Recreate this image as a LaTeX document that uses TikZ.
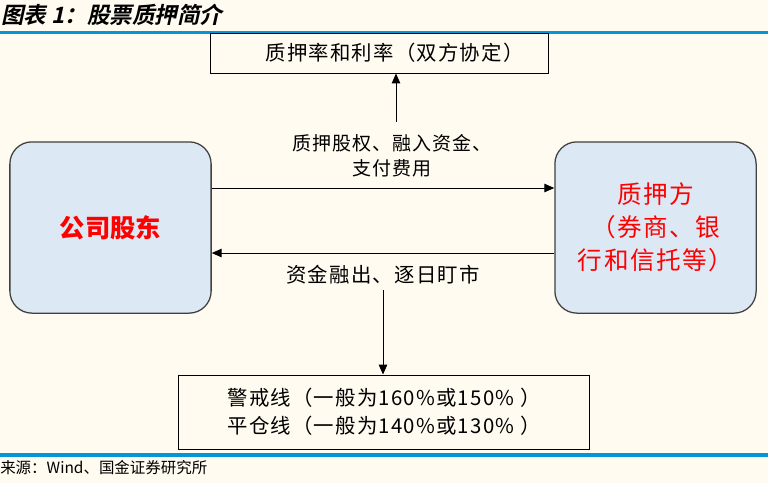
\documentclass[tikz,border=0pt]{standalone}
\usepackage{fontspec}
\setmainfont{Noto Sans CJK SC}
\newfontfamily\titlefont[BoldFont={* Bold},BoldFeatures={FakeSlant=0.22}]{Noto Sans CJK SC}
\newfontfamily\wideface[LetterSpace=6]{Noto Sans CJK SC}
\usetikzlibrary{arrows.meta,calc}
\definecolor{paper}{RGB}{255,251,240}
\definecolor{rule}{RGB}{0,150,215}
\definecolor{boxfill}{RGB}{221,232,245}
\definecolor{boxline}{RGB}{64,64,64}
\tikzset{
  plainbox/.style={draw=black,line width=0.7pt,fill=paper,inner sep=0pt,
    font=\wideface\fontsize{14.5}{20}\selectfont,align=center},
  partybox/.style={draw=boxline,line width=0.9pt,fill=boxfill,rounded corners=0.55cm,
    minimum width=5.03cm,minimum height=4.28cm,text=red,align=center},
  flow/.style={-{Triangle[length=7pt,width=6pt]},line width=0.7pt},
  lbl/.style={align=center,inner sep=0pt}
}
\begin{document}
\begin{tikzpicture}[x=0.025cm,y=-0.025cm]
  \useasboundingbox[fill=paper](0,0) rectangle (768,483);
  %titolo e righe
  \node[anchor=west,inner sep=0pt] (title) at (1,15)
    {\titlefont\bfseries\fontsize{16}{18}\selectfont 图表 1：股票质押简介};
  \draw[rule,line width=2.2pt] (0,32.5) -- (768,32.5);
  \draw[rule,line width=2.2pt] (0,455) -- (768,455);
  \node[anchor=west,inner sep=0pt] (src) at (0,468)
    {\fontsize{11}{12}\selectfont 来源：Wind、国金证券研究所};
  %scatole
  \node[plainbox,minimum width=8.43cm,minimum height=1.0cm] (rate) at (379.5,53)
    {\hspace*{0.75cm}质押率和利率（双方协定）};
  \node[partybox,font=\bfseries\fontsize{18}{20}\selectfont] (holder) at (110.5,227.5)
    {公司股东};
  \node[partybox,font=\wideface\fontsize{17.5}{23.5}\selectfont] (pledgee) at (655.5,227.5)
    {质押方\\（券商、银\\行和信托等）};
  \node[plainbox,minimum width=10.28cm,minimum height=1.85cm] (line) at (384,412)
    {警戒线（一般为160\%或150\% ）\\平仓线（一般为140\%或130\% ）};
  %frecce
  \draw[flow] ($(holder.east)+(0,-39.5)$) -- ($(pledgee.west)+(0,-39.5)$);
  \draw[flow] ($(pledgee.west)+(0,25.5)$) -- ($(holder.east)+(0,25.5)$);
  \node[lbl,font=\addfontfeature{LetterSpace=5}\fontsize{13.5}{18}\selectfont] (give) at (392,156)
    {质押股权、融入资金、\\支付费用};
  \node[lbl,font=\wideface\fontsize{14.5}{18}\selectfont] (take) at (383,275)
    {资金融出、逐日盯市};
  \coordinate (up) at (396,122);
  \draw[flow] (up) -- (up |- rate.south);
  \coordinate (down) at (383,290);
  \draw[flow] (down) -- (down |- line.north);
\end{tikzpicture}
\end{document}
